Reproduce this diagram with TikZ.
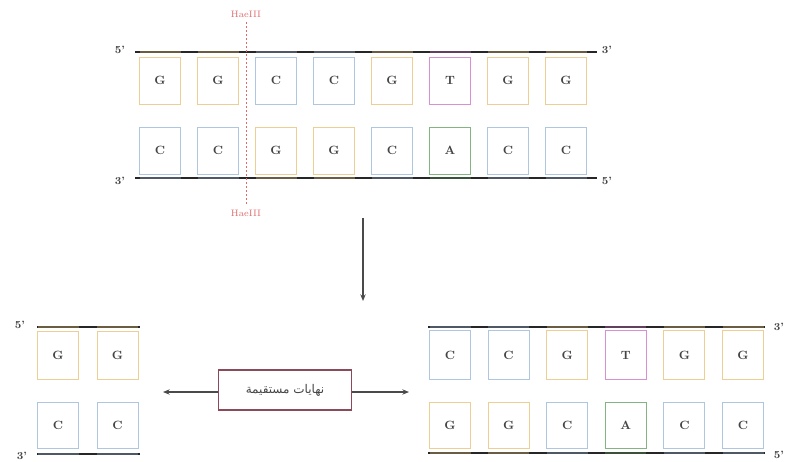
\documentclass[tikz,border=0pt]{standalone}
\usepackage{fontspec}
\newfontfamily\arabicfont[Script=Arabic]{DejaVu Sans}
\TeXXeTstate=1
\usetikzlibrary{arrows.meta}
\definecolor{gcol}{HTML}{EDCF93}
\definecolor{ccol}{HTML}{AEC6E0}
\definecolor{tcol}{HTML}{D890D2}
\definecolor{acol}{HTML}{82B582}
\definecolor{cutred}{HTML}{E06A6A}
\definecolor{lblframe}{HTML}{8A4A5A}
\definecolor{arrgray}{HTML}{4A4A4A}
\definecolor{txtgray}{HTML}{444444}
\tikzset{
  basebox/.style={draw=#1, line width=0.7pt, minimum width=30.75pt, minimum height=35.25pt,
    inner sep=0pt, font=\small\bfseries, text=txtgray},
  endlbl/.style={font=\footnotesize\bfseries, text=txtgray, inner sep=0pt},
  backbone/.style={line width=2.2pt, black!85},
  bbseg/.style={line width=2.2pt, #1!45!black},
  enzlbl/.style={font=\scriptsize, text=cutred, inner sep=0pt},
  arr/.style={draw=arrgray, line width=0.8pt, -{Stealth[length=5pt,width=4pt]}},
}
\begin{document}
\begin{tikzpicture}[x=0.75pt,y=-0.75pt]
\useasboundingbox (0,0) rectangle (787,461);
% ---------- top duplex ----------
\coordinate (tbL) at (135,52); \coordinate (tbR) at (597,52);
\coordinate (bbL) at (135,178); \coordinate (bbR) at (597,178);
\draw[backbone] (tbL) -- (tbR);
\draw[backbone] (bbL) -- (bbR);
\foreach \i/\b/\c in {1/G/gcol,2/G/gcol,3/C/ccol,4/C/ccol,5/G/gcol,6/T/tcol,7/G/gcol,8/G/gcol}{
  \pgfmathsetmacro{\cx}{160+58*(\i-1)}
  \draw[bbseg=\c] (\cx-20.5,52) -- (\cx+20.5,52);
  \node[basebox=\c] (top\i) at (\cx,80.5) {\b};
}
\foreach \i/\b/\c in {1/C/ccol,2/C/ccol,3/G/gcol,4/G/gcol,5/C/ccol,6/A/acol,7/C/ccol,8/C/ccol}{
  \pgfmathsetmacro{\cx}{160+58*(\i-1)}
  \draw[bbseg=\c] (\cx-20.5,178) -- (\cx+20.5,178);
  \node[basebox=\c] (bot\i) at (\cx,150.5) {\b};
}
\node[endlbl] (t5) at (120,50) {5'};
\node[endlbl] (t3) at (607,50) {3'};
\node[endlbl] (b3) at (120,181) {3'};
\node[endlbl] (b5) at (607,181) {5'};
% cut site
\coordinate (cutT) at (246,22); \coordinate (cutB) at (246,206);
\draw[cutred, line width=0.6pt, dash pattern=on 1.5pt off 1.5pt] (cutT) -- (cutB);
\node[enzlbl] (enzT) at (246,14) {HaeIII};
\node[enzlbl] (enzB) at (246,213) {HaeIII};
% down arrow
\coordinate (dnA) at (363,218); \coordinate (dnB) at (363,301);
\draw[arr] (dnA) -- (dnB);
% ---------- bottom left fragment ----------
\draw[backbone] (37,327) coordinate (lfTL) -- (140,327) coordinate (lfTR);
\draw[backbone] (37,454) coordinate (lfBL) -- (140,454) coordinate (lfBR);
\foreach \i/\cx in {1/58,2/117.5}{
  \draw[bbseg=gcol] (\cx-20.5,327) -- (\cx+20.5,327);
  \draw[bbseg=ccol] (\cx-20.5,454) -- (\cx+20.5,454);
  \node[basebox=gcol, minimum height=36pt] (lft\i) at (\cx,355) {G};
  \node[basebox=ccol, minimum height=34pt] (lfb\i) at (\cx,425.5) {C};
}
\node[endlbl] (l5) at (20,325) {5'};
\node[endlbl] (l3) at (22,456) {3'};
% ---------- bottom right fragment ----------
\draw[backbone] (428,327) coordinate (rfTL) -- (765,327) coordinate (rfTR);
\draw[backbone] (428,453) coordinate (rfBL) -- (765,453) coordinate (rfBR);
\foreach \i/\b/\c in {1/C/ccol,2/C/ccol,3/G/gcol,4/T/tcol,5/G/gcol,6/G/gcol}{
  \pgfmathsetmacro{\cx}{450+58.6*(\i-1)}
  \draw[bbseg=\c] (\cx-20.5,327) -- (\cx+20.5,327);
  \node[basebox=\c, minimum height=37pt] (rft\i) at (\cx,355) {\b};
}
\foreach \i/\b/\c in {1/G/gcol,2/G/gcol,3/C/ccol,4/A/acol,5/C/ccol,6/C/ccol}{
  \pgfmathsetmacro{\cx}{450+58.6*(\i-1)}
  \draw[bbseg=\c] (\cx-20.5,453) -- (\cx+20.5,453);
  \node[basebox=\c, minimum height=34.5pt] (rfb\i) at (\cx,425) {\b};
}
\node[endlbl] (r3) at (779,327) {3'};
\node[endlbl] (r5) at (779,455) {5'};
% ---------- blunt ends label ----------
\node[draw=lblframe, line width=1.1pt, minimum width=100pt, minimum height=30pt, inner sep=2pt,
      font=\arabicfont\small, text=txtgray] (blunt) at (285,390) {\beginR نهايات مستقيمة\endR};
\coordinate (leftTip) at (163,392);
\coordinate (rightTip) at (409,392);
\draw[arr] (blunt.west |- leftTip) -- (leftTip);
\draw[arr] (blunt.east |- rightTip) -- (rightTip);
\end{tikzpicture}
\end{document}
